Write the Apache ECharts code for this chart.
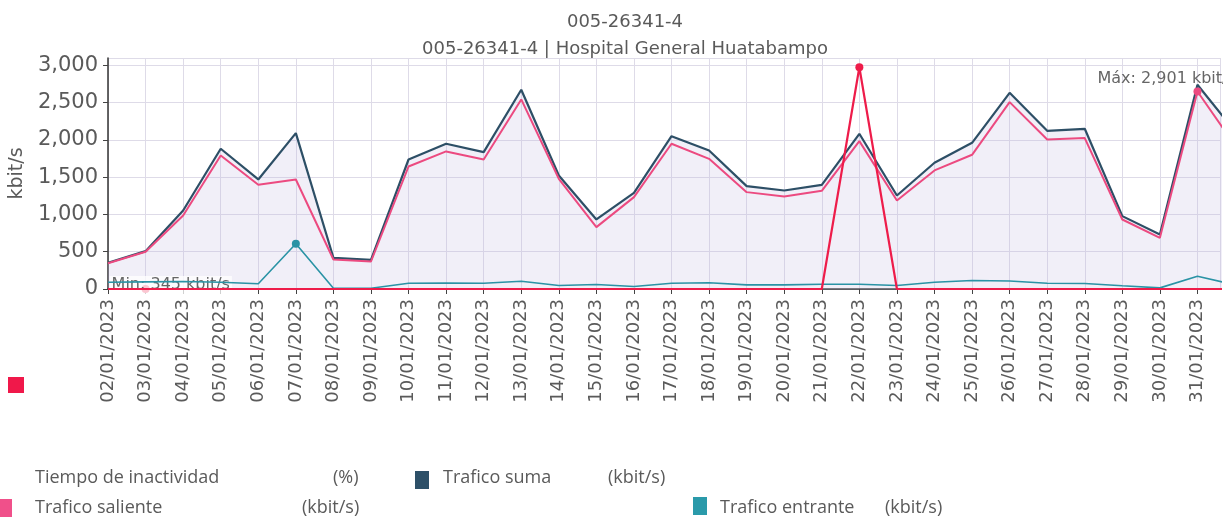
<!DOCTYPE html>
<html>
<head>
<meta charset="utf-8">
<script src="https://cdn.jsdelivr.net/npm/echarts@6/dist/echarts.min.js"></script>
<style>html,body{margin:0;padding:0;background:#fff;}#c{width:1223px;height:521px;}</style>
</head>
<body>
<div id="c"></div>
<script>
// ---- data ----
const titleMain = '005-26341-4';
const titleSub = '005-26341-4 | Hospital General Huatabampo';
const dayNums = [2,3,4,5,6,7,8,9,10,11,12,13,14,15,16,17,18,19,20,21,22,23,24,25,26,27,28,29,30,31,32];
const dateLabels = ['02/01/2023','03/01/2023','04/01/2023','05/01/2023','06/01/2023','07/01/2023','08/01/2023','09/01/2023','10/01/2023','11/01/2023','12/01/2023','13/01/2023','14/01/2023','15/01/2023','16/01/2023','17/01/2023','18/01/2023','19/01/2023','20/01/2023','21/01/2023','22/01/2023','23/01/2023','24/01/2023','25/01/2023','26/01/2023','27/01/2023','28/01/2023','29/01/2023','30/01/2023','31/01/2023','01/02/2023'];
const traficoSuma = [352,508,1054,1882,1470,2092,419,391,1738,1949,1837,2674,1523,933,1291,2051,1859,1380,1322,1398,2083,1255,1694,1962,2633,2123,2150,978,732,2741,2114];
const traficoSaliente = [345,500,987,1792,1398,1470,396,369,1644,1846,1738,2544,1479,830,1233,1949,1747,1300,1242,1318,1984,1188,1591,1801,2508,2007,2025,933,687,2651,1928];
const traficoEntrante = [90,95,100,91,70,607,10,10,78,80,78,105,47,60,34,78,83,56,56,63,63,47,91,114,107,78,74,43,15,172,54];
const tiempoInactividad = [0,0,0,0,0,0,0,0,0,0,0,0,0,0,0,0,0,0,0,0,96,0,0,0,0,0,0,0,0,0,0];
const yTicks = [0,500,1000,1500,2000,2500,3000];
const minLabel = 'Min: 345 kbit/s';
const maxLabel = 'Máx: 2,901 kbit/s';

const pair = arr => dayNums.map((d, i) => [d, arr[i]]);

const C_SUMA = '#2d4f66', C_SAL = '#ec4a80', C_ENT = '#2a93a5', C_INA = '#ee1c4a';
const TXT = '#5a5a5a';

const chart = echarts.init(document.getElementById('c'), null, {renderer: 'canvas'});
const legendFont = '18px "Open Sans", sans-serif';
function lt(x, y, t) { return {type: 'text', left: x, top: y, style: {text: t, font: legendFont, fill: TXT}}; }

chart.setOption({
  animation: false,
  backgroundColor: '#fff',
  title: [
    {text: titleMain, left: 620, top: 8, textAlign: 'center',
     textStyle: {fontFamily: 'DejaVu Sans', fontSize: 18, fontWeight: 'normal', color: TXT}},
    {text: titleSub, left: 620, top: 35, textAlign: 'center',
     textStyle: {fontFamily: 'DejaVu Sans', fontSize: 18, fontWeight: 'normal', color: TXT}}
  ],
  grid: {left: 107, right: 3, top: 58, bottom: 232, containLabel: false},
  xAxis: {
    type: 'value', min: 2, max: 31.6, interval: 1,
    axisLine: {show: true, onZero: false, lineStyle: {color: '#333', width: 1.5}},
    axisTick: {show: true, length: 5, lineStyle: {color: '#444'}},
    splitLine: {show: true, lineStyle: {color: '#dedbe8', width: 1}},
    axisLabel: {
      rotate: 90, margin: 10, showMaxLabel: false,
      fontFamily: 'DejaVu Sans', fontSize: 18, color: TXT,
      formatter: v => { const i = dayNums.indexOf(v); return i >= 0 && i < 30 ? dateLabels[i] : ''; }
    }
  },
  yAxis: [
    {
      type: 'value', min: 0, max: 3100, interval: 500,
      name: 'kbit/s', nameLocation: 'middle', nameGap: 52, nameRotate: 90,
      nameTextStyle: {fontFamily: 'DejaVu Sans', fontSize: 19, color: TXT},
      axisLine: {show: true, lineStyle: {color: '#333', width: 1.5}},
      axisTick: {show: true, length: 5, lineStyle: {color: '#444'}},
      splitLine: {show: true, lineStyle: {color: '#dedbe8', width: 1}},
      axisLabel: {showMaxLabel: false, margin: 10, fontFamily: 'DejaVu Sans', fontSize: 21, color: TXT,
        formatter: v => yTicks.indexOf(v) >= 0 ? v.toLocaleString('en-US') : ''}
    },
    {type: 'value', min: 0, max: 100, show: false}
  ],
  series: [
    {
      name: 'Trafico suma', type: 'line', data: pair(traficoSuma), yAxisIndex: 0,
      symbol: 'none', lineStyle: {color: C_SUMA, width: 2.2}, itemStyle: {color: C_SUMA},
      areaStyle: {color: 'rgba(196,188,226,0.33)'}, z: 3
    },
    {
      name: 'Trafico saliente', type: 'line', data: pair(traficoSaliente), yAxisIndex: 0,
      symbol: 'none', lineStyle: {color: C_SAL, width: 2}, itemStyle: {color: C_SAL}, z: 4,
      markPoint: {
        symbol: 'circle', symbolSize: 8, itemStyle: {color: C_SAL},
        data: [{coord: [31, traficoSaliente[29]],
          label: {show: true, formatter: maxLabel, position: [-96, -17],
            fontFamily: 'DejaVu Sans', fontSize: 16, color: '#666'}}]
      }
    },
    {
      name: 'Trafico entrante', type: 'line', data: pair(traficoEntrante), yAxisIndex: 0,
      symbol: 'none', lineStyle: {color: C_ENT, width: 1.6}, itemStyle: {color: C_ENT}, z: 5,
      markPoint: {
        symbol: 'circle', symbolSize: 8, itemStyle: {color: C_ENT}, label: {show: false},
        data: [{coord: [7, traficoEntrante[5]]}]
      }
    },
    {
      name: 'Tiempo de inactividad', type: 'line', data: pair(tiempoInactividad), yAxisIndex: 1,
      symbol: 'none', lineStyle: {color: C_INA, width: 2.2}, itemStyle: {color: C_INA}, z: 6,
      markPoint: {
        symbol: 'circle', symbolSize: 8, itemStyle: {color: C_INA},
        data: [
          {coord: [22, tiempoInactividad[20]], label: {show: false}},
          {coord: [3, tiempoInactividad[1]],
           label: {show: true, formatter: minLabel, position: [-32, -9],
             fontFamily: 'DejaVu Sans', fontSize: 16, color: '#666',
             backgroundColor: 'rgba(255,255,255,0.75)', padding: [1, 2]}}
        ]
      }
    }
  ],
  graphic: [
    {type: 'rect', left: 8, top: 377, shape: {width: 16, height: 16}, style: {fill: '#f0184a'}},
    lt(35, 469, 'Tiempo de inactividad'),
    lt(333, 469, '(%)'),
    {type: 'rect', left: 415, top: 471, shape: {width: 14, height: 18}, style: {fill: '#2d5068'}},
    lt(443, 469, 'Trafico suma'),
    lt(608, 469, '(kbit/s)'),
    {type: 'rect', left: 0, top: 499, shape: {width: 12, height: 18}, style: {fill: '#f0508a'}},
    lt(35, 499, 'Trafico saliente'),
    lt(302, 499, '(kbit/s)'),
    {type: 'rect', left: 693, top: 497, shape: {width: 14, height: 18}, style: {fill: '#2a9aaa'}},
    lt(720, 499, 'Trafico entrante'),
    lt(885, 499, '(kbit/s)')
  ]
});
</script>
</body>
</html>
